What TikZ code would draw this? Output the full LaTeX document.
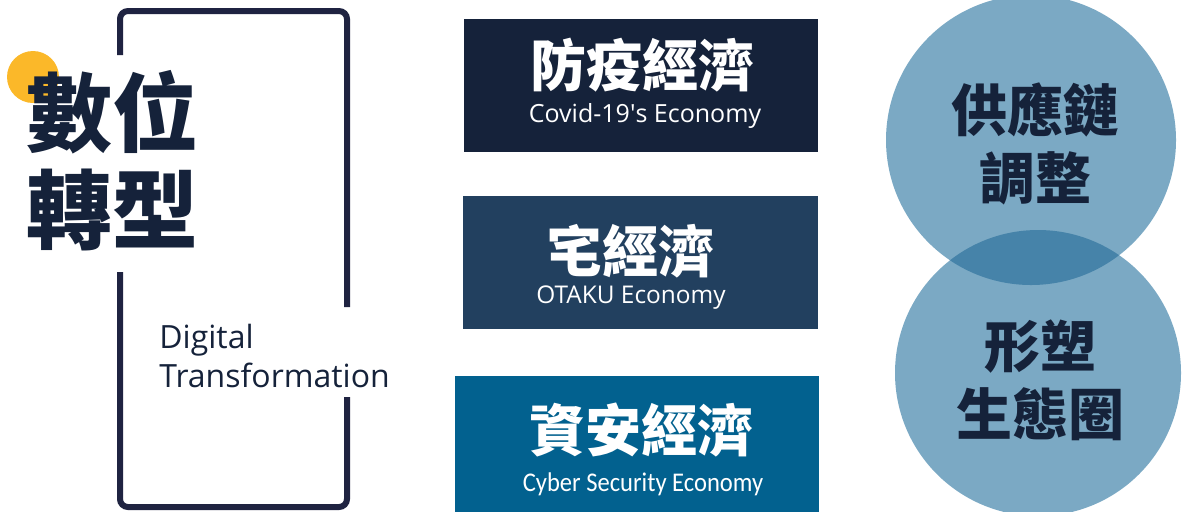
\documentclass[tikz,border=0pt]{standalone}
\usepackage{fontspec}
\setsansfont{Open Sans}
\newfontfamily\cjk{Noto Sans CJK TC}
\newfontfamily\calibri[FakeStretch=0.91]{Carlito}
\usepackage{tikz}
\usetikzlibrary{positioning}
\definecolor{navy}{HTML}{15223A}
\definecolor{framenavy}{HTML}{1F2341}
\definecolor{dotorange}{HTML}{FBB829}
\definecolor{boxnavy}{HTML}{15223A}
\definecolor{boxslate}{HTML}{22405F}
\definecolor{boxblue}{HTML}{02618F}
\definecolor{bubblefill}{HTML}{7BA9C4}
\definecolor{bubbleover}{HTML}{4683A9}
\tikzstyle{frame}=[line width=3pt, color=framenavy, rounded corners=4pt]
\tikzstyle{ecobox}=[rectangle, inner sep=0pt, draw=none, minimum height=66.5pt]
\tikzstyle{zhbig}=[inner sep=0pt, font=\cjk\bfseries\fontsize{28pt}{34pt}\selectfont, text=white]
\tikzstyle{ensub}=[inner sep=0pt, font=\sffamily\fontsize{12.5pt}{15pt}\selectfont, text=white]
\tikzstyle{bubble}=[circle, inner sep=0pt, draw=none, fill=bubblefill]
\tikzstyle{bubbletext}=[inner sep=0pt, align=center, text=navy,
  font=\cjk\bfseries\fontsize{28pt}{34pt}\selectfont]

\begin{document}
\begin{tikzpicture}[x=0.5pt, y=-0.5pt]
  \useasboundingbox (0,0) rectangle (1187,511);

  % yellow dot behind the title
  \fill[dotorange] (33,77) circle[radius=26];

  % open frame, two strokes with gaps
  \draw[frame] (120,55) -- (120,11) -- (347,11) -- (347,307);
  \draw[frame] (347,397) -- (347,507) -- (120,507) -- (120,272);

  % title and its english line
  \node[inner sep=0pt, align=left, text=navy,
        font=\cjk\bfseries\fontsize{43pt}{48.5pt}\selectfont] (title) at (112,161) {數位\\轉型};
  \node[anchor=base west, inner sep=0pt, text=navy,
        font=\sffamily\fontsize{16pt}{19pt}\selectfont] (digital) at (159,348) {Digital};
  \node[anchor=base west, inner sep=0pt, text=navy,
        font=\sffamily\fontsize{16pt}{19pt}\selectfont] (transf) at (159,387) {Transformation};

  % draw the three economy boxes, using a loop
  \foreach \n/\x/\y/\w/\h/\c in {covid/641/85.5/354/66.5/boxnavy,
                                  otaku/640.5/262.5/355/66.5/boxslate,
                                  cyber/637/444/364/68/boxblue}
    \node[ecobox, fill=\c, minimum width=\w*0.5pt, minimum height=\h pt] (\n) at (\x,\y) {};

  \node[zhbig] (covidzh) at (642,65) {防疫經濟};
  \node[ensub] (coviden) at (645,116) {Covid-19\textquotesingle s Economy};
  \node[zhbig] (otakuzh) at (630,251) {宅經濟};
  \node[ensub, font=\sffamily\fontsize{12.2pt}{15pt}\selectfont] (otakuen) at (631,298) {OTAKU Economy};
  \node[zhbig] (cyberzh) at (641,430) {資安經濟};
  \node[ensub, font=\calibri\fontsize{13.5pt}{16pt}\selectfont] (cyberen) at (643,484) {Cyber Security Economy};

  % two circles, darker where they meet
  \node[bubble, minimum size=145pt] (chain) at (1031,140) {};
  \node[bubble, minimum size=143pt] (eco) at (1038,373) {};
  \begin{scope}
    \clip (1031,140) circle[radius=145];
    \fill[bubbleover] (1038,373) circle[radius=143];
  \end{scope}

  \node[bubbletext] (chaintext) at (1035,144) {供應鏈\\調整};
  \node[bubbletext] (ecotext) at (1040,380) {形塑\\生態圈};
\end{tikzpicture}
\end{document}
